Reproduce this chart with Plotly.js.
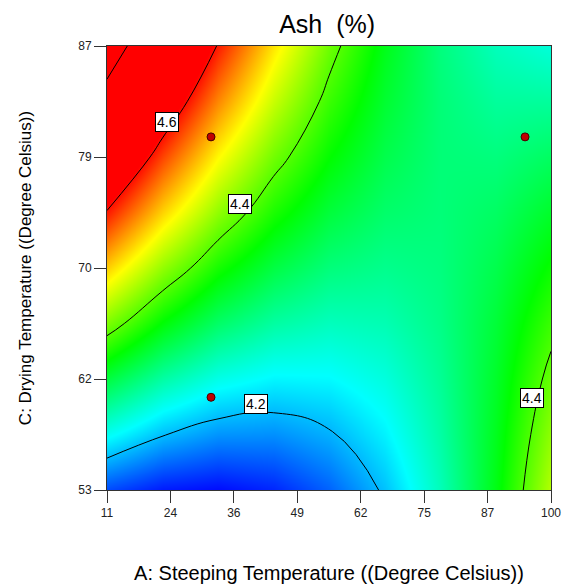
<!DOCTYPE html>
<html>
<head>
<meta charset="utf-8">
<script src="https://cdn.plot.ly/plotly-3.0.1.min.js"></script>
<style>
html,body{margin:0;padding:0;background:#fff;}
#chart{width:564px;height:588px;}
</style>
</head>
<body>
<div id="chart"></div>
<script>
// Factor grid (A: steeping temperature, C: drying temperature)
var steepingA = [11, 22.125, 33.25, 44.375, 55.5, 66.625, 77.75, 88.875, 100];
var dryingC = [53, 57.25, 61.5, 65.75, 70, 74.25, 78.5, 82.75, 87];
// Ash (%) response surface values, rows = dryingC, cols = steepingA
var ashRow53    = [4.146, 4.122, 4.115, 4.128, 4.158, 4.205, 4.269, 4.351, 4.449];
var ashRow57    = [4.240, 4.202, 4.182, 4.180, 4.196, 4.229, 4.279, 4.346, 4.431];
var ashRow61    = [4.329, 4.279, 4.246, 4.231, 4.233, 4.251, 4.287, 4.340, 4.411];
var ashRow66    = [4.420, 4.356, 4.309, 4.280, 4.267, 4.272, 4.294, 4.333, 4.389];
var ashRow70    = [4.509, 4.431, 4.370, 4.327, 4.300, 4.291, 4.298, 4.323, 4.365];
var ashRow74    = [4.597, 4.505, 4.430, 4.372, 4.331, 4.308, 4.301, 4.312, 4.340];
var ashRow78    = [4.683, 4.576, 4.487, 4.415, 4.361, 4.323, 4.302, 4.299, 4.313];
var ashRow83    = [4.767, 4.646, 4.543, 4.457, 4.388, 4.336, 4.302, 4.284, 4.284];
var ashRow87    = [4.849, 4.715, 4.597, 4.497, 4.414, 4.348, 4.299, 4.268, 4.253];
// Design points
var pointA = [31.85, 94.8, 31.85, 94.8];
var pointC = [80.04, 80.04, 60.1, 60.1];
// Contour label positions and texts
var labelA = [22.97, 37.7, 40.8, 96.25];
var labelC = [81.2, 74.9, 59.6, 60.06];
var labelText = ['4.6', '4.4', '4.2', '4.4'];
// Tick labels
var xTickVals = [11, 23.714, 36.429, 49.143, 61.857, 74.571, 87.286, 100];
var xTickText = ['11', '24', '36', '49', '62', '75', '87', '100'];
var yTickVals = [53, 61.5, 70, 78.5, 87];
var yTickText = ['53', '62', '70', '79', '87'];

var zGrid = [ashRow53, ashRow57, ashRow61, ashRow66, ashRow70, ashRow74, ashRow78, ashRow83, ashRow87];
var FONT = 'Liberation Sans, Arial, sans-serif';
var cscale = [[0, 'rgb(0,0,255)'], [0.25, 'rgb(0,255,255)'], [0.5, 'rgb(0,255,0)'], [0.75, 'rgb(255,255,0)'], [1, 'rgb(255,0,0)']];

var traces = [
  {
    type: 'heatmap', x: steepingA, y: dryingC, z: zGrid,
    zsmooth: 'best', colorscale: cscale, zmin: 4.11, zmax: 4.61,
    showscale: false, hoverinfo: 'skip'
  },
  {
    type: 'contour', x: steepingA, y: dryingC, z: zGrid,
    autocontour: false,
    contours: {start: 4.2, end: 4.8, size: 0.2, coloring: 'none', showlabels: false},
    line: {color: '#000', width: 1, smoothing: 1.3},
    showscale: false, hoverinfo: 'skip'
  },
  {
    type: 'scatter', mode: 'markers', x: pointA, y: pointC,
    marker: {size: 8, color: 'rgb(192,0,0)', line: {color: 'rgb(70,0,0)', width: 1}},
    hoverinfo: 'skip'
  }
];

var annotations = labelText.map(function (t, i) {
  return {
    x: labelA[i], y: labelC[i], xref: 'x', yref: 'y', text: t, showarrow: false,
    font: {family: FONT, size: 14, color: '#000'},
    bgcolor: '#fff', bordercolor: '#000', borderwidth: 1, borderpad: 1
  };
});

var layout = {
  width: 564, height: 588,
  margin: {l: 107, r: 13, t: 46, b: 98},
  paper_bgcolor: '#fff', plot_bgcolor: '#fff',
  showlegend: false,
  title: {text: 'Ash&nbsp; (%)', font: {family: FONT, size: 25, color: '#000'}, x: 0.58, xanchor: 'center', y: 0.958, yanchor: 'middle'},
  xaxis: {
    range: [11, 100], tickvals: xTickVals, ticktext: xTickText,
    ticks: 'outside', ticklen: 12, tickcolor: '#333', tickwidth: 1,
    showline: true, mirror: true, linecolor: '#333', linewidth: 1,
    showgrid: false, zeroline: false,
    tickfont: {family: FONT, size: 12, color: '#222'},
    title: {text: 'A: Steeping Temperature ((Degree Celsius))', font: {family: FONT, size: 20, color: '#000'}, standoff: 46}
  },
  yaxis: {
    range: [53, 87], tickvals: yTickVals, ticktext: yTickText,
    ticks: 'outside', ticklen: 12, tickcolor: '#333', tickwidth: 1,
    showline: true, mirror: true, linecolor: '#333', linewidth: 1,
    showgrid: false, zeroline: false,
    tickfont: {family: FONT, size: 12, color: '#222'},
    title: {text: 'C: Drying Temperature ((Degree Celsius))', font: {family: FONT, size: 17, color: '#000'}, standoff: 42}
  },
  annotations: annotations
};

Plotly.newPlot('chart', traces, layout, {staticPlot: true, displayModeBar: false});
</script>
</body>
</html>
